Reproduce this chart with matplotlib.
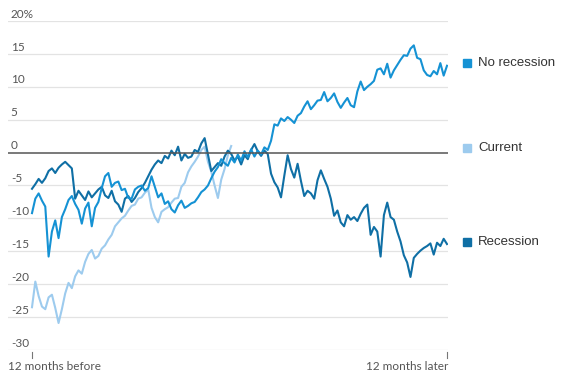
import numpy as np
import matplotlib
matplotlib.use("Agg")
import matplotlib.pyplot as plt
from matplotlib.lines import Line2D

# values sampled every 2 trading days, percent change
no_recession = [
    -9.2, -7.0, -6.2, -7.3, -8.2, -15.8, -12.0, -10.3, -13.0, -9.8,
    -8.6, -7.2, -6.6, -7.8, -8.7, -10.8, -8.5, -7.6, -11.2, -8.4,
    -7.5, -5.4, -3.6, -3.1, -5.2, -4.6, -4.4, -5.7, -5.5, -6.9,
    -7.0, -5.6, -5.2, -5.0, -5.8, -5.4, -3.6, -5.2, -6.8, -6.2,
    -7.8, -7.4, -8.6, -9.1, -8.0, -7.3, -8.4, -8.1, -7.7, -7.5,
    -6.8, -6.0, -5.6, -5.0, -3.9, -2.9, -2.2, -1.0, -1.6, -2.0,
    -0.8, -1.5, -0.3, -1.2, 0.2, -0.7, 0.5, -0.6, 0.3, -0.3,
    0.8, 0.4, 1.8, 4.3, 4.1, 5.2, 4.8, 5.4, 5.0, 4.5,
    5.6, 6.0, 7.0, 7.8, 6.6, 7.2, 7.9, 8.0, 9.2, 7.8,
    8.3, 9.0, 7.7, 6.8, 7.6, 8.3, 7.2, 6.9, 9.3, 10.8,
    9.5, 10.0, 10.4, 10.9, 12.6, 12.8, 11.9, 13.5, 11.4, 12.5,
    13.3, 14.1, 14.8, 14.7, 15.8, 16.3, 14.4, 14.2, 12.5, 11.8,
    11.6, 12.4, 11.9, 13.6, 11.7, 13.2,
]

recession = [
    -5.5, -4.8, -4.0, -4.6, -3.9, -2.8, -2.4, -3.1, -2.3, -1.8,
    -1.4, -1.9, -2.4, -7.0, -5.8, -6.5, -7.2, -5.9, -6.8, -6.2,
    -5.6, -5.2, -6.5, -6.9, -5.8, -7.4, -7.9, -9.0, -7.0, -6.6,
    -7.5, -6.9, -6.0, -5.4, -4.6, -3.6, -2.6, -1.8, -1.2, -1.6,
    -0.5, -0.9, 0.3, -0.4, 0.9, -1.2, -0.2, -0.8, -0.6, 0.4,
    0.1, 1.4, 2.2, -0.3, -2.8, -2.2, -1.6, -2.0, -0.6, 0.3,
    -0.2, -1.2, -0.6, -1.8, -0.4, -1.0, 0.4, 1.3, 0.2, -0.5,
    0.3, -0.2, -3.2, -4.5, -5.3, -6.8, -3.5, -0.4, -2.5, -3.8,
    -1.7, -4.3, -6.6, -5.8, -6.2, -7.0, -4.2, -2.7, -4.0, -5.2,
    -7.0, -9.6, -8.8, -10.6, -11.2, -9.5, -10.2, -9.8, -10.4, -9.3,
    -8.4, -7.9, -12.5, -11.3, -12.0, -15.8, -9.5, -7.6, -9.8, -10.2,
    -12.0, -13.5, -15.6, -16.7, -18.9, -16.0, -15.4, -14.9, -14.5, -14.2,
    -13.8, -15.5, -13.7, -14.2, -13.1, -13.9,
]

current = [
    -23.5, -19.6, -21.8, -23.4, -23.8, -22.0, -21.6, -23.6, -25.9, -23.8,
    -21.4, -19.8, -20.6, -18.8, -17.9, -18.4, -16.6, -15.4, -14.8, -16.1,
    -15.7, -14.6, -14.1, -13.2, -12.5, -11.2, -10.6, -10.0, -9.6, -8.8,
    -8.1, -7.9, -7.0, -6.8, -6.1, -5.6, -8.4, -9.8, -10.6, -9.0,
    -8.6, -8.3, -7.6, -7.0, -6.9, -5.2, -4.6, -3.0, -2.1, -1.4,
    -0.6, 0.4, 0.9, -1.4, -2.9, -5.0, -6.9, -4.1, -2.5, -0.4,
    1.0,
]

y_ticks = [20, 15, 10, 5, 0, -5, -10, -15, -20, -25, -30]
y_labels = ["20%", "15", "10", "5", "0", "-5", "-10", "-15", "-20", "-25", "-30"]
x_labels = ["12 months before", "12 months later"]
series_names = ["No recession", "Current", "Recession"]
colors = ["#1592d4", "#9dcbee", "#0f6fa5"]

W, H = 570, 374
fig = plt.figure(figsize=(W / 100, H / 100), dpi=100)
ax = fig.add_axes([8 / W, 1 - 350 / H, 440 / W, 329 / H])

n = len(no_recession)
x_full = np.arange(n)
x_cur = np.arange(len(current))
px = 415 / (n - 1)
ax.set_xlim(-24 / px, (n - 1) + 1 / px)
ax.set_ylim(-30, 20)

for t in y_ticks:
    if t == 0:
        continue
    ax.axhline(t, color="#e3e3e3", lw=0.9, zorder=0)
ax.axhline(0, color="#555555", lw=1.1, zorder=4)

ax.plot(x_cur, current, color=colors[1], lw=1.5, zorder=1)
ax.plot(x_full, recession, color=colors[2], lw=1.5, zorder=2)
ax.plot(x_full, no_recession, color=colors[0], lw=1.5, zorder=3)

# y labels sit above their gridlines
for t, lab in zip(y_ticks, y_labels):
    ax.annotate(lab, (0, t), xycoords=("axes fraction", "data"),
                xytext=(2, 1), textcoords="offset points",
                ha="left", va="bottom", fontsize=8.5, color="#555555",
                family="Lato")

for xv in [0, n - 1]:
    ax.plot([xv, xv], [-30.3, -31.2], color="#777777", lw=0.8, clip_on=False)

ax.text(0, -31.6, x_labels[0], transform=ax.get_yaxis_transform(),
        ha="left", va="top", fontsize=8.5, color="#555555", family="Lato")
ax.text(1, -31.6, x_labels[1], transform=ax.get_yaxis_transform(),
        ha="right", va="top", fontsize=8.5, color="#555555", family="Lato")

ax.axis("off")

legend_y = [63, 148, 242]
for name, c, ly in zip(series_names, colors, legend_y):
    fy = 1 - ly / H
    fig.add_artist(Line2D([467 / W], [fy], marker="s", markersize=6,
                          color=c, linestyle="none", transform=fig.transFigure))
    fig.text(478 / W, fy, name, ha="left", va="center", fontsize=9.5,
             color="#333333", family="Liberation Sans")

fig.savefig("out.png", dpi=100)
